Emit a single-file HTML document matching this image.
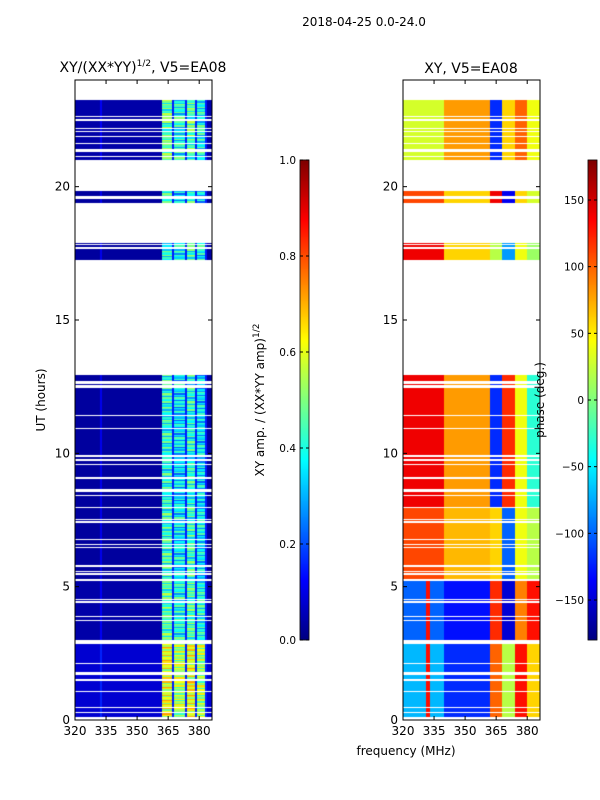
<!DOCTYPE html>
<html><head><meta charset="utf-8"><style>
body{margin:0;background:#fff;}
#wrap{position:relative;width:600px;height:800px;font-family:"DejaVu Sans","Liberation Sans",sans-serif;}
canvas,svg{position:absolute;left:0;top:0;}
</style></head><body>
<div id="wrap">
<canvas id="cv" width="600" height="800"></canvas>
<svg id="sv" width="600" height="800"></svg>
</div>
<script>
// ---- data ----
const segments = [[0.1,2.85],[3.0,5.2],[5.3,8.0],[8.0,12.97],[17.25,17.9],[19.4,19.85],[21.0,23.25]];
const gaps = [0.25,0.45,1.05,1.5,1.75,2.1,2.3,3.4,3.7,3.87,4.4,4.5,5.45,5.6,5.75,6.3,6.45,6.6,6.75,7.05,7.4,7.5,7.8,7.95,8.45,8.6,9.07,9.6,9.75,9.9,10.95,11.44,12.5,12.65,17.7,17.8,19.55,19.65,21.1,21.3,21.35,21.6,21.85,22.05,22.2,22.5,22.6];
const ampSegBase = [0.08,0.04,0.03,0.03,0.03,0.03,0.04];
const ampBlockSeg = [0.6,0.45,0.42,0.4,0.42,0.4,0.45];
const ampRowMod = [0,0.08,-0.1,0.05,0.12,-0.06,0.02,-0.12,0.1,-0.03];
const ampBlocks = [[362,367],[368,373],[374,378],[379,383]];
const phaseLeft = [-70,-100,110,140,140,110,30];
const phaseMid = [-120,-130,70,80,60,60,80];
const phaseRight = [[100,20,130,60],[120,-150,90,130],[60,-100,40,20],[-120,120,40,-30],[20,-80,40,10],[140,-140,60,30],[-120,60,100,40]];
const xTicks = [320,335,350,365,380];
const yTicks = [0,5,10,15,20];
const ampTicks = [0.0,0.2,0.4,0.6,0.8,1.0];
const phTicks = [-150,-100,-50,0,50,100,150];

// ---- geometry ----
const T=80,B=720,PW=137;
const panels=[{x0:75},{x0:403}];
const xs=(f,p)=>p.x0+(f-320)*2.07;
const ys=h=>B-(h/24)*(B-T);
function jet(v){v=Math.max(0,Math.min(1,v));
 const r=Math.max(0,Math.min(1,1.5-Math.abs(4*v-3))),g=Math.max(0,Math.min(1,1.5-Math.abs(4*v-2))),b=Math.max(0,Math.min(1,1.5-Math.abs(4*v-1)));
 return `rgb(${r*255|0},${g*255|0},${b*255|0})`;}
const ctx=document.getElementById('cv').getContext('2d');
function segOf(h){for(let i=0;i<segments.length;i++)if(h>=segments[i][0]&&h<segments[i][1])return i;return -1;}
function isGap(h0,h1){return gaps.some(g=>g>=h0&&g<h1);}
function cell(p,f,h0,h1,col){
 const xa=Math.round(xs(f,p)),xb=Math.min(Math.round(xs(f+1,p)),p.x0+PW);
 const ya=Math.round(ys(h1)),yb=Math.round(ys(h0));
 if(xb<=xa||yb<=ya)return;
 ctx.fillStyle=col;ctx.fillRect(xa,ya,xb-xa,yb-ya);
}
const DH=0.05;
for(let i=0;i<480;i++){
 const h=i*DH;
 const s=segOf(h+DH/2); if(s<0||isGap(h,h+DH))continue;
 for(let f=320;f<387;f+=1){
  let a=ampSegBase[s]; let bi=ampBlocks.findIndex(b=>f>=b[0]&&f<b[1]);
  if(bi>=0)a=ampBlockSeg[s]-(bi%2)*0.06+ampRowMod[(i+bi*3)%ampRowMod.length];
  else if(f>=362&&f<384)a=0.15;
  if(f===332)a+=0.08;
  cell(panels[0],f,h,h+DH,jet(a));
  let p;
  if(f<340)p=phaseLeft[s]; else if(f<362)p=phaseMid[s];
  else p=phaseRight[s][Math.min(3,Math.floor((f-362)/6))];
  if(f>=331&&f<333&&s<2)p=130;
  cell(panels[1],f,h,h+DH,jet((p+180)/360));
 }
}
for(let y=160;y<640;y++){
 const v=(640-y)/480;ctx.fillStyle=jet(v);ctx.fillRect(300,y,9,1);ctx.fillRect(588,y,9,1);
}
// ---- svg ----
const sv=document.getElementById('sv');const NS='http://www.w3.org/2000/svg';
function el(tag,attrs,txt){const e=document.createElementNS(NS,tag);for(const k in attrs)e.setAttribute(k,attrs[k]);if(txt!==undefined)e.textContent=txt;sv.appendChild(e);return e;}
panels.forEach((p,pi)=>{
 const r=el('rect',{x:p.x0,y:T,width:PW,height:B-T,fill:'none',stroke:'#000','stroke-width':1});
 
 
 xTicks.forEach(t=>{const x=xs(t,p);
  el('line',{x1:x,x2:x,y1:B,y2:B-4,stroke:'#000'});el('line',{x1:x,x2:x,y1:T,y2:T+4,stroke:'#000'});
  const tx=el('text',{x:x,y:B+15,'font-size':12,'text-anchor':'middle'},t);
  
  });
 yTicks.forEach(t=>{const y=ys(t);
  el('line',{x1:p.x0,x2:p.x0+4,y1:y,y2:y,stroke:'#000'});el('line',{x1:p.x0+PW,x2:p.x0+PW-4,y1:y,y2:y,stroke:'#000'});
  const tx=el('text',{x:p.x0-5,y:y+4,'font-size':12,'text-anchor':'end'},t);
  
  });
});
[[300,ampTicks,v=>640-v*480,v=>v.toFixed(1)],[588,phTicks,v=>640-(v+180)/360*480,v=>String(v).replace('-','\u2212')]].forEach(([x0,ticks,f,fmt],ci)=>{
 const r=el('rect',{x:x0,y:160,width:9,height:480,fill:'none',stroke:'#000','stroke-width':0.8});
 
 
 ticks.forEach(t=>{const y=f(t);
  el('line',{x1:x0,x2:x0+3,y1:y,y2:y,stroke:'#000'});el('line',{x1:x0+9,x2:x0+6,y1:y,y2:y,stroke:'#000'});
  const tx=el('text',{x:x0-4,y:y+4,'font-size':10.5,'text-anchor':'end'},fmt(t));
  
  });
});
function label(x,y,txt,name,size,rot){const a={x:x,y:y,'font-size':size,'text-anchor':'middle'};if(rot)a.transform=`rotate(-90 ${x} ${y})`;const t=el('text',a,txt);
 
 return t;}
label(364,26,'2018-04-25 0.0-24.0','figure-title',12);
const t1=label(143,72,'','amp-panel-title',14);t1.innerHTML='XY/(XX*YY)<tspan font-size="9" dy="-6">1/2</tspan><tspan dy="6">, V5=EA08</tspan>';
label(471,73,'XY, V5=EA08','phase-panel-title',14);
label(45,400,'UT (hours)','y-axis-title',12,true);
label(406,755,'frequency (MHz)','x-axis-title',12);
const t2=label(264,400,'','amp-colorbar-title',12,true);t2.innerHTML='XY amp. / (XX*YY amp)<tspan font-size="9" dy="-5">1/2</tspan>';
label(544,400,'phase (deg.)','phase-colorbar-title',12,true);
</script>
</body></html>
